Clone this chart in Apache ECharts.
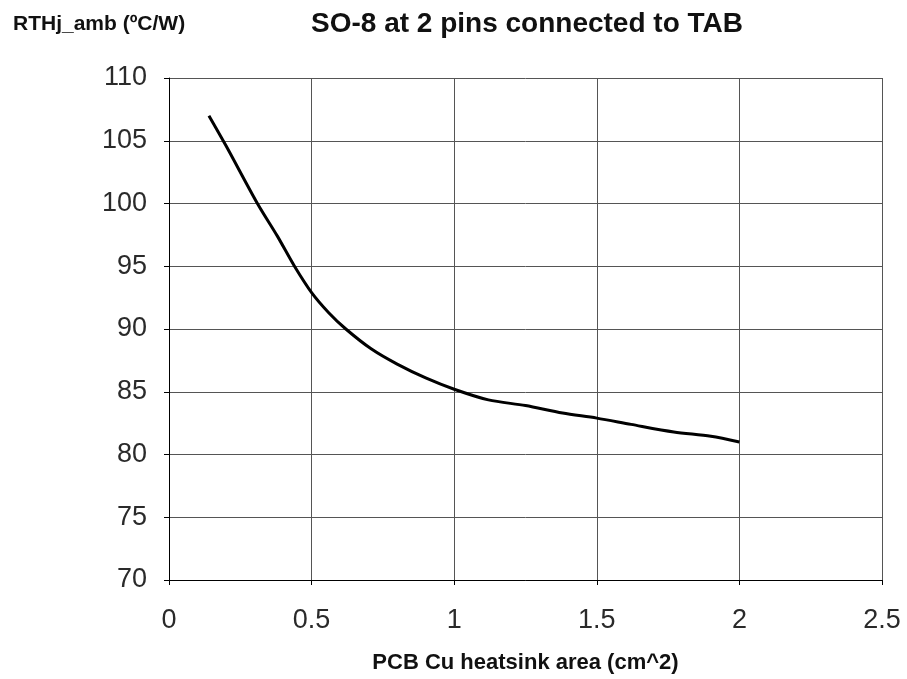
<!DOCTYPE html>
<html>
<head>
<meta charset="utf-8">
<script src="https://cdn.jsdelivr.net/npm/echarts@6/dist/echarts.min.js"></script>
<style>
  html, body { margin: 0; padding: 0; background: #fff; }
  #chart { width: 907px; height: 679px; }
</style>
</head>
<body>
<div id="chart"></div>
<script>
// PCB copper area (cm^2) vs thermal resistance (°C/W)
var areaCm2 = [0.14, 0.2, 0.31, 0.38, 0.44, 0.5, 0.56, 0.62, 0.71, 0.8, 0.9, 1.0, 1.12, 1.25, 1.38, 1.5, 1.62, 1.77, 1.9, 2.0];
var rthJamb = [107, 104.6, 100, 97.4, 95, 92.9, 91.3, 90, 88.4, 87.2, 86.1, 85.2, 84.35, 83.9, 83.3, 82.9, 82.4, 81.8, 81.45, 81.0];

var points = areaCm2.map(function (x, i) { return [x, rthJamb[i]]; });

var font = 'Liberation Sans, Arial, sans-serif';
var chart = echarts.init(document.getElementById('chart'));

chart.setOption({
  backgroundColor: '#fff',
  animation: false,
  title: [
    {
      text: 'SO-8 at 2 pins connected to TAB',
      left: 522, top: 5, textAlign: 'center',
      textStyle: { fontFamily: font, fontSize: 28, fontWeight: 'bold', color: '#111' }
    },
    {
      text: 'RTHj_amb (ºC/W)',
      left: 8, top: 9,
      textStyle: { fontFamily: font, fontSize: 21, fontWeight: 'bold', color: '#111' }
    }
  ],
  grid: { left: 169, right: 25, top: 78, bottom: 99, containLabel: false },
  xAxis: {
    type: 'value',
    min: 0, max: 2.5, interval: 0.5,
    name: 'PCB Cu heatsink area (cm^2)',
    nameLocation: 'middle',
    nameGap: 72,
    nameTextStyle: { fontFamily: font, fontSize: 22, fontWeight: 'bold', color: '#111' },
    axisLine: { show: true, onZero: false, lineStyle: { color: '#000', width: 1 } },
    axisTick: { show: true, inside: false, length: 5, lineStyle: { color: '#000' } },
    axisLabel: { fontFamily: font, fontSize: 27, color: '#2a2a2a', margin: 27 },
    splitLine: { show: true, lineStyle: { color: '#555', width: 1 } }
  },
  yAxis: {
    type: 'value',
    min: 70, max: 110, interval: 5,
    axisLine: { show: true, lineStyle: { color: '#000', width: 1 } },
    axisTick: { show: true, inside: false, length: 5, lineStyle: { color: '#000' } },
    axisLabel: { fontFamily: font, fontSize: 27, color: '#2a2a2a', margin: 22 },
    splitLine: { show: true, lineStyle: { color: '#555', width: 1 } }
  },
  series: [
    {
      type: 'line',
      data: points,
      showSymbol: false,
      smooth: 0.3,
      lineStyle: { color: '#000', width: 3 }
    }
  ]
});
</script>
</body>
</html>
